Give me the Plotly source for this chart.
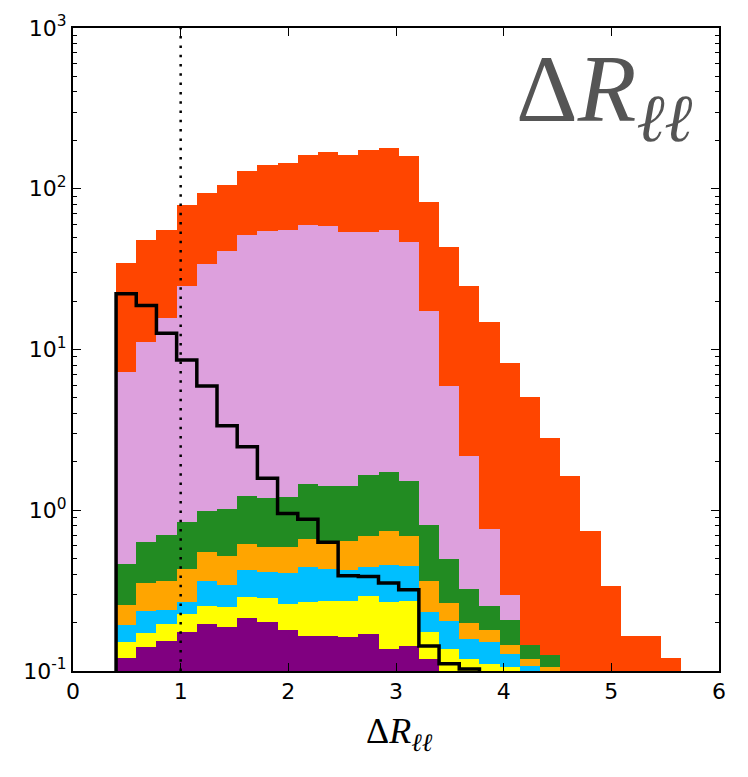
import numpy as np
import plotly.graph_objects as go

# Histogram binning in Delta R_ll (28 bins starting at 0.4)
bin_lo = 0.4
bin_w = 0.1875
n_bins = 28

# Background components, events per bin (stacked bottom -> top)
purple = [0.120, 0.141, 0.153, 0.174, 0.196, 0.189, 0.213, 0.203, 0.179, 0.166,
          0.164, 0.162, 0.170, 0.137, 0.144, 0.118, 0, 0, 0, 0,
          0, 0, 0, 0, 0, 0, 0, 0]
yellow = [0.031, 0.031, 0.042, 0.051, 0.057, 0.060, 0.075, 0.080, 0.082, 0.101,
          0.108, 0.110, 0.124, 0.130, 0.130, 0.057, 0.138, 0.118, 0.110, 0.106,
          0, 0, 0, 0, 0, 0, 0, 0]
skyblue = [0.041, 0.063, 0.045, 0.045, 0.112, 0.096, 0.137, 0.128, 0.144, 0.178,
           0.161, 0.154, 0.151, 0.189, 0.178, 0.057, 0.068, 0.041, 0.042, 0.022,
           0.107, 0, 0, 0, 0, 0, 0, 0]
orange = [0.067, 0.116, 0.125, 0.159, 0.182, 0.176, 0.193, 0.182, 0.182, 0.219,
          0.213, 0.220, 0.245, 0.285, 0.241, 0.133, 0.058, 0.039, 0.029, 0.017,
          0.011, 0.106, 0, 0, 0, 0, 0, 0]
green = [0.204, 0.285, 0.335, 0.418, 0.443, 0.499, 0.612, 0.597, 0.623, 0.796,
         0.774, 0.774, 0.960, 0.989, 0.817, 0.442, 0.231, 0.126, 0.071, 0.064,
         0.027, 0.019, 0, 0, 0, 0, 0, 0]
plum = [6.74, 10.56, 15.0, 24.05, 33.0, 40.1, 50.7, 53.7, 54.5, 58.3,
        57.6, 52.7, 52.4, 54.0, 45.4, 16.5, 5.44, 1.86, 0.51, 0.086,
        0, 0, 0, 0, 0, 0, 0, 0]
orangered = [27.4, 36.7, 40.0, 54.0, 60.0, 64.9, 77.1, 85.1, 88.3, 102.2,
             110.0, 107.9, 120.9, 124.3, 114.1, 65.0, 37.4, 22.5, 14.0, 8.0,
             4.93, 2.69, 1.63, 0.745, 0.34, 0.164, 0.164, 0.121]

# Signal (drawn as an unfilled step outline)
signal = [22.2, 18.8, 12.6, 8.6, 5.93, 3.35, 2.48, 1.58, 0.953, 0.880,
          0.632, 0.392, 0.387, 0.353, 0.320, 0.143, 0.111, 0.103]

layers = [
    (purple, "#800080"),
    (yellow, "#ffff00"),
    (skyblue, "#00bfff"),
    (orange, "#ffa500"),
    (green, "#228b22"),
    (plum, "#dda0dd"),
    (orangered, "#ff4500"),
]

x_ticks = [0, 1, 2, 3, 4, 5, 6]
y_ticks = [0.1, 1, 10, 100, 1000]
y_ticktext = ["10<sup>-1</sup>", "10<sup>0</sup>", "10<sup>1</sup>",
              "10<sup>2</sup>", "10<sup>3</sup>"]
cut_value = 1.0

edges = bin_lo + bin_w * np.arange(n_bins + 1)
centers = 0.5 * (edges[:-1] + edges[1:])

fig = go.Figure()
for vals, col in layers:
    fig.add_trace(go.Bar(
        x=centers, y=vals, width=bin_w,
        marker=dict(color=col, line=dict(width=0)),
        showlegend=False, hoverinfo="skip",
    ))

# step outline for the signal, closed down to the axis at both ends
floor = 1e-3
sx = [edges[0]] + list(edges[:len(signal)]) + [edges[len(signal)]]
sy = [floor] + list(signal) + [floor]
fig.add_trace(go.Scatter(
    x=sx, y=sy, mode="lines", line=dict(color="black", width=3.5, shape="hv"),
    showlegend=False, hoverinfo="skip",
))

# dotted vertical line marking the cut
fig.add_shape(type="line", x0=cut_value, x1=cut_value, xref="x",
              y0=0, y1=1, yref="paper",
              line=dict(color="black", width=2.5, dash="2.5px,6.8px"),
              layer="above")

minor_vals = [m * 10.0 ** e for e in range(-1, 3) for m in range(2, 10)]

tick_font = dict(family="DejaVu Sans", size=22, color="black")

fig.update_layout(
    width=748, height=777,
    margin=dict(l=73, r=29, t=23, b=106),
    paper_bgcolor="white", plot_bgcolor="white",
    barmode="stack", bargap=0,
    showlegend=False,
    xaxis=dict(
        range=[0, 6], tickvals=x_ticks, ticks="inside", ticklen=8, tickwidth=1.2,
        tickcolor="black", showline=True, linewidth=2, linecolor="black",
        mirror="allticks", showgrid=False, zeroline=False, tickfont=tick_font,
    ),
    yaxis=dict(
        type="log", range=[-1, 3], tickvals=y_ticks, ticktext=y_ticktext,
        ticks="inside", ticklen=8, tickwidth=1.2, tickcolor="black",
        showline=True, linewidth=2, linecolor="black", mirror="allticks",
        showgrid=False, zeroline=False, tickfont=tick_font,
        minor=dict(tickvals=minor_vals, ticks="inside", ticklen=4,
                   tickwidth=1, tickcolor="black", showgrid=False),
    ),
    annotations=[
        dict(text="Δ<i>R</i><sub><i>ℓℓ</i></sub>", xref="paper", yref="paper",
             x=0.962, y=0.895, xanchor="right", yanchor="middle",
             showarrow=False,
             font=dict(family="Liberation Serif", size=96, color="#555555")),
        dict(text="Δ<i>R</i><sub><i>ℓℓ</i></sub>", xref="paper", yref="paper",
             x=0.505, y=-0.097, xanchor="center", yanchor="middle",
             showarrow=False,
             font=dict(family="Liberation Serif", size=36, color="black")),
    ],
)

fig.write_html("out.html")
